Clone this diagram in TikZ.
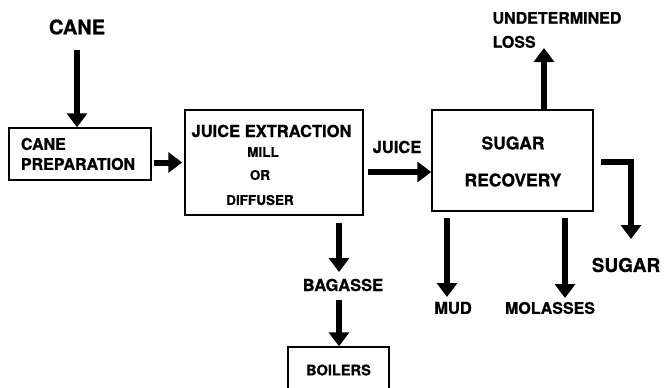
\documentclass[tikz,border=0pt]{standalone}
\usepackage{fontspec}
\setmainfont{TeX Gyre Heros}[BoldFeatures={FakeBold=0.8}]
\usetikzlibrary{arrows.meta}
\begin{document}
\begin{tikzpicture}[x=1pt,y=-1pt,
  arr/.style={line width=6pt,-{Triangle[width=20pt,length=14pt]}},
  box/.style={draw, line width=1.5pt},
  lab/.style={font=\bfseries\fontsize{16.5}{20}\selectfont, inner sep=0pt},
  small/.style={font=\bfseries\fontsize{13.5}{16}\selectfont, inner sep=0pt}]
\useasboundingbox (0,0) rectangle (664,388);
\clip (0,0) rectangle (664,388);

% nodes
\node[lab, font=\bfseries\fontsize{20}{24}\selectfont] (cane) at (77,27) {CANE};
\node[box, lab, font=\bfseries\fontsize{16}{20}\selectfont, text width=118pt, inner xsep=12pt, minimum height=52pt, align=left] (prep) at (80,154) {CANE\\PREPARATION};

\node[box, minimum width=178pt, minimum height=105pt] (jx) at (274,162.5) {};
\node[lab] (jxt) at (271.5,131) {JUICE EXTRACTION};
\node[small] (mill) at (263,152) {MILL};
\node[small] (orr) at (260,175) {OR};
\node[small] (diff) at (260,200) {DIFFUSER};

\node[lab] (juice) at (397,147) {JUICE};

\node[box, minimum width=161pt, minimum height=101pt] (sr) at (512.5,160.5) {};
\node[lab, font=\bfseries\fontsize{17.5}{20}\selectfont] (sugt) at (513,143) {SUGAR};
\node[lab, font=\bfseries\fontsize{17.5}{20}\selectfont] (rec) at (513,180) {RECOVERY};

\node[lab, font=\bfseries\fontsize{16}{24}\selectfont, align=left] (loss) at (557,30) {UNDETERMINED\\LOSS};
\node[lab, font=\bfseries\fontsize{19}{22}\selectfont] (sug) at (626,265) {SUGAR};
\node[lab] (mud) at (453,308) {MUD};
\node[lab, font=\bfseries\fontsize{16}{20}\selectfont] (mol) at (550,308) {MOLASSES};
\node[lab] (bag) at (343,285) {BAGASSE};
\node[box, font=\bfseries\fontsize{14.6}{18}\selectfont, minimum width=101pt, minimum height=46pt, inner sep=0pt] (boil) at (338.5,370) {BOILERS};

% free ends
\coordinate (losstip) at (544,48);
\coordinate (sugtip) at (631,239);
\coordinate (mudtip) at (447,297);
\coordinate (moltip) at (565,298);
\coordinate (bagtip) at (339,272);

% connectors
\draw[arr, shorten <=15pt] (cane.south) -- (cane.south |- prep.north);
\draw[arr, shorten <=2pt, shorten >=2pt] (prep.east |- jx.west) -- (jx.west);
\draw[arr, shorten <=4pt] ([shift={(0,9.5)}]jx.east) -- ([shift={(0,11.5)}]sr.west);
\draw[arr] (sr.north -| losstip) -- (losstip);
\draw[arr] ([shift={(7,1.5)}]sr.east) -| (sugtip);
\draw[arr, shorten <=6pt] (sr.south -| mudtip) -- (mudtip);
\draw[arr, shorten <=6pt] (sr.south -| moltip) -- (moltip);
\draw[arr, shorten <=7pt] (jx.south -| bagtip) -- (bagtip);
\draw[arr, shorten <=9pt] (bag.south -| bagtip) -- (bagtip |- boil.north);
\end{tikzpicture}
\end{document}
